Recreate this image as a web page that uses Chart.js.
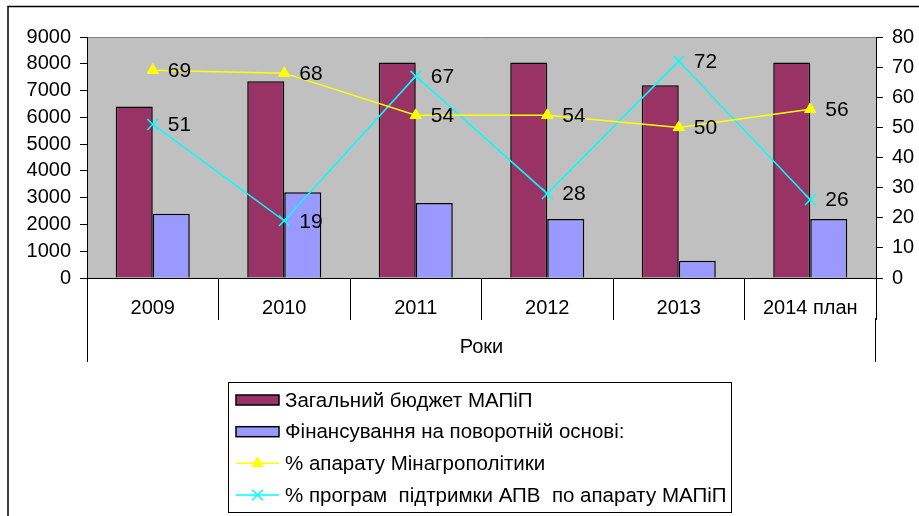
<!DOCTYPE html>
<html><head><meta charset="utf-8">
<script src="https://cdn.jsdelivr.net/npm/chart.js@4.4.1/dist/chart.umd.min.js"></script>
<style>html,body{margin:0;padding:0;background:#fff;} #wrap{width:919px;height:516px;}</style>
</head><body><div id="wrap"><canvas id="c" width="919" height="516"></canvas></div>
<script>
const categories = ['2009', '2010', '2011', '2012', '2013', '2014 план'];
const budgetTotal = [6400, 7350, 8050, 8050, 7200, 8050];
const revolvingFinance = [2400, 3200, 2800, 2200, 640, 2200];
const pctMinagro = [69, 68, 54, 54, 50, 56];
const pctPrograms = [51, 19, 67, 28, 72, 26];
const seriesNames = [
  'Загальний бюджет МАПіП',
  'Фінансування на поворотній основі:',
  '% апарату Мінагрополітики',
  '% програм  підтримки АПВ  по апарату МАПіП'
];
const axisTitle = 'Роки';
const leftAxis = {min: 0, max: 9000, step: 1000};
const rightAxis = {min: 0, max: 80, step: 10};

const FONT = "'Liberation Sans', Arial, sans-serif";
const FS = 20;
Chart.defaults.font.family = FONT;
Chart.defaults.font.size = FS;
Chart.defaults.color = '#000';

const framePlugin = {
  id: 'frame',
  beforeDraw(chart) {
    const c = chart.ctx, a = chart.chartArea;
    c.save();
    c.fillStyle = '#fff';
    c.fillRect(0, 0, chart.width, chart.height);
    c.strokeStyle = '#000';
    c.lineWidth = 1.5;
    c.beginPath();
    c.moveTo(8, 516); c.lineTo(8, 6.5); c.lineTo(919, 6.5);
    c.stroke();
    c.fillStyle = '#C0C0C0';
    c.fillRect(a.left, a.top, a.right - a.left, a.bottom - a.top);
    c.strokeStyle = '#808080';
    c.lineWidth = 1;
    c.beginPath();
    c.moveTo(a.left, a.top + 0.5); c.lineTo(a.right, a.top + 0.5);
    c.stroke();
    c.restore();
  },
  afterDraw(chart) {
    const c = chart.ctx, a = chart.chartArea;
    c.save();
    c.strokeStyle = '#000';
    c.lineWidth = 1;
    c.beginPath();
    c.moveTo(Math.round(a.left) + 0.5, a.bottom + 40); c.lineTo(Math.round(a.left) + 0.5, 362);
    c.moveTo(Math.round(a.right) - 0.5, a.bottom + 40); c.lineTo(Math.round(a.right) - 0.5, 362);
    c.stroke();
    c.restore();
  }
};

const labelPlugin = {
  id: 'pointLabels',
  afterDatasetsDraw(chart) {
    const c = chart.ctx;
    c.save();
    c.font = '21px ' + FONT;
    c.fillStyle = '#000';
    c.textAlign = 'left';
    c.textBaseline = 'middle';
    chart.data.datasets.forEach((ds, i) => {
      if (ds.type !== 'line') return;
      chart.getDatasetMeta(i).data.forEach((pt, j) => {
        c.fillText(String(ds.data[j]), pt.x + 15, pt.y + 1);
      });
    });
    c.restore();
  }
};

const legendPlugin = {
  id: 'boxLegend',
  afterDraw(chart) {
    const c = chart.ctx;
    const box = {x: 228.5, y: 382.5, w: 503, h: 130};
    const rows = [400, 431.7, 463.3, 495];
    c.save();
    c.strokeStyle = '#000';
    c.lineWidth = 1;
    c.strokeRect(box.x, box.y, box.w, box.h);
    c.font = '20.5px ' + FONT;
    c.textAlign = 'left';
    c.textBaseline = 'middle';
    chart.data.datasets.forEach((ds, i) => {
      const y = rows[i];
      if (ds.type === 'line') {
        c.strokeStyle = ds.borderColor;
        c.lineWidth = 1.5;
        c.beginPath(); c.moveTo(236, y); c.lineTo(279, y); c.stroke();
        c.fillStyle = ds.borderColor;
        c.strokeStyle = ds.borderColor;
        c.lineWidth = ds.pointBorderWidth;
        Chart.helpers.drawPoint(c, {pointStyle: ds.pointStyle, radius: ds.pointRadius, borderWidth: ds.pointBorderWidth, rotation: 0}, 257.5, y);
      } else {
        c.fillStyle = ds.backgroundColor;
        c.fillRect(236, y - 5, 43, 10);
        c.strokeStyle = '#000';
        c.lineWidth = 1.5;
        c.strokeRect(236, y - 5, 43, 10);
      }
      c.fillStyle = '#000';
      c.fillText(ds.label, 285, y + 1);
    });
    c.restore();
  }
};

new Chart(document.getElementById('c'), {
  type: 'bar',
  data: {
    labels: categories,
    datasets: [
      {type: 'bar', label: seriesNames[0], data: budgetTotal, backgroundColor: '#993366', borderColor: '#000', borderWidth: 1.5, yAxisID: 'y', order: 2, categoryPercentage: 0.563, barPercentage: 1},
      {type: 'bar', label: seriesNames[1], data: revolvingFinance, backgroundColor: '#9999FF', borderColor: '#000', borderWidth: 1.5, yAxisID: 'y', order: 2, categoryPercentage: 0.563, barPercentage: 1},
      {type: 'line', label: seriesNames[2], data: pctMinagro, borderColor: '#FFFF00', backgroundColor: '#FFFF00', borderWidth: 1.5, pointStyle: 'triangle', pointRadius: 6.5, pointBorderWidth: 1, pointBackgroundColor: '#FFFF00', pointBorderColor: '#FFFF00', yAxisID: 'y1', order: 1, tension: 0},
      {type: 'line', label: seriesNames[3], data: pctPrograms, borderColor: '#00FFFF', backgroundColor: '#00FFFF', borderWidth: 1.5, pointStyle: 'crossRot', pointRadius: 7.5, pointBorderWidth: 1.5, pointBorderColor: '#00FFFF', yAxisID: 'y1', order: 1, tension: 0}
    ]
  },
  options: {
    responsive: false,
    animation: false,
    layout: {padding: {top: 37, left: 0, right: 0, bottom: 0}},
    plugins: {legend: {display: false}, tooltip: {enabled: false}},
    scales: {
      x: {
        position: 'bottom', offset: true,
        grid: {offset: true, drawOnChartArea: false, tickLength: 42, color: '#000', lineWidth: 1},
        border: {color: '#000', width: 1},
        ticks: {padding: -24, maxRotation: 0, autoSkip: false, font: {size: FS}},
        title: {display: true, text: axisTitle, padding: {top: 0, bottom: 157}, font: {size: FS}},
        afterFit(s) { s.height = 238; }
      },
      y: {
        position: 'left', min: leftAxis.min, max: leftAxis.max,
        ticks: {stepSize: leftAxis.step, autoSkip: false, padding: 9, font: {size: FS}, callback: v => String(v)},
        grid: {drawOnChartArea: false, tickLength: 7, color: '#000'},
        border: {color: '#000', width: 1},
        afterFit(s) { s.width = 87; }
      },
      y1: {
        position: 'right', min: rightAxis.min, max: rightAxis.max,
        ticks: {stepSize: rightAxis.step, autoSkip: false, padding: 9, font: {size: FS}, callback: v => String(v)},
        grid: {drawOnChartArea: false, tickLength: 7, color: '#000'},
        border: {color: '#000', width: 1},
        afterFit(s) { s.width = 43; }
      }
    }
  },
  plugins: [framePlugin, labelPlugin, legendPlugin]
});
</script></body></html>
